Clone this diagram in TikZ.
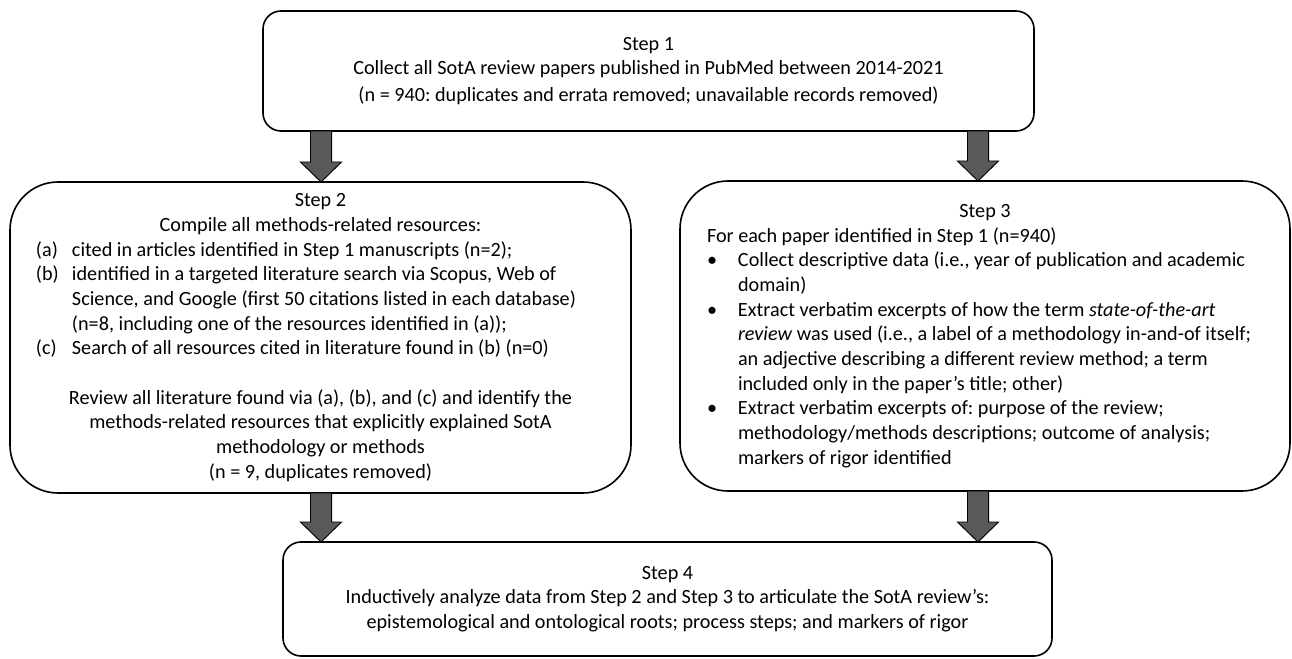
\documentclass[tikz,border=0pt]{standalone}
\usepackage{fontspec}
\setmainfont{Carlito}
\usetikzlibrary{calc}
\newdimen\pxu \pxu=0.75pt
\definecolor{arrowgray}{HTML}{595959}
\newcommand\ctrline[1]{\hbox to \linewidth{\hss#1\hss}}
\newcommand\lftline[1]{\hbox{#1}}
\newcommand\lblA[1]{\makebox[36\pxu][l]{#1}}
\newcommand\lblB[1]{\makebox[31\pxu][l]{#1}}
\frenchspacing
\begin{document}
\frenchspacing
\begin{tikzpicture}[x=0.75pt,y=-0.75pt,
  stepbox/.style={draw=black, line width=1.2pt, fill=white, inner sep=0pt, outer sep=0pt,
    font=\fontsize{15.15pt}{18.5pt}\selectfont\frenchspacing},
  smallr/.style={rounded corners=13.5pt},
  bigr/.style={rounded corners=36pt},
  bigarrow/.style={draw=black, line width=0.7pt, fill=arrowgray, line join=miter,
    to path={let \p1=(\tikztostart), \p2=(\tikztotarget) in
      (\x1-7.9pt,\y1) -- (\x1+7.9pt,\y1) -- (\x1+7.9pt,\y2+15pt) -- (\x1+15.4pt,\y2+15pt)
      -- (\x1,\y2) -- (\x1-15.4pt,\y2+15pt) -- (\x1-7.9pt,\y2+15pt) -- cycle}}]
\useasboundingbox (0,0) rectangle (1292,659);

\node[stepbox, smallr, minimum width=578.25pt, minimum height=90pt] (s1) at (648.5,71) {%
\begin{minipage}{740\pxu}
\ctrline{Step 1}
\ctrline{Collect all SotA review papers published in PubMed between 2014-2021}
\vspace{2\pxu}
\ctrline{(n = 940: duplicates and errata removed; unavailable records removed)}
\end{minipage}};

\node[stepbox, bigr, minimum width=465.75pt, minimum height=233.25pt] (s2) at (320.5,337.5) {%
\begin{minipage}{569\pxu}
\ctrline{Step 2}
\ctrline{Compile all methods-related resources:}
\lftline{\lblA{(a)}cited in articles identified in Step 1 manuscripts (n=2);}
\lftline{\lblA{(b)}identified in a targeted literature search via Scopus, Web of}
\lftline{\hspace*{36\pxu}Science, and Google (first 50 citations listed in each database)}
\lftline{\hspace*{36\pxu}(n=8, including one of the resources identified in (a));}
\lftline{\lblA{(c)}Search of all resources cited in literature found in (b) (n=0)}
\lftline{\strut}
\ctrline{Review all literature found via (a), (b), and (c) and identify the}
\ctrline{methods-related resources that explicitly explained SotA}
\ctrline{methodology or methods}
\ctrline{(n = 9, duplicates removed)}
\end{minipage}};

\node[stepbox, bigr, minimum width=457.5pt, minimum height=232.5pt] (s3) at (985,336) {%
\begin{minipage}{556\pxu}
\ctrline{Step 3}
\lftline{For each paper identified in Step 1 (n=940)}
\lftline{\lblB{•}Collect descriptive data (i.e., year of publication and academic}
\lftline{\hspace*{31\pxu}domain)}
\lftline{\lblB{•}Extract verbatim excerpts of how the term \textit{state-of-the-art}}
\lftline{\hspace*{31\pxu}\textit{review} was used (i.e., a label of a methodology in-and-of itself;}
\lftline{\hspace*{31\pxu}an adjective describing a different review method; a term}
\lftline{\hspace*{31\pxu}included only in the paper’s title; other)}
\lftline{\lblB{•}Extract verbatim excerpts of: purpose of the review;}
\lftline{\hspace*{31\pxu}methodology/methods descriptions; outcome of analysis;}
\lftline{\hspace*{31\pxu}markers of rigor identified}
\end{minipage}};

\node[stepbox, smallr, minimum width=576.75pt, minimum height=85.5pt] (s4) at (667.5,599) {%
\begin{minipage}{740\pxu}
\ctrline{Step 4}
\ctrline{Inductively analyze data from Step 2 and Step 3 to articulate the SotA review’s:}
\ctrline{epistemological and ontological roots; process steps; and markers of rigor}
\end{minipage}};

\coordinate (la) at (321,0);
\coordinate (ra) at (978,0);
\draw[bigarrow] (s1.south -| la) to (s2.north -| la);
\draw[bigarrow] (s1.south -| ra) to (s3.north -| ra);
\draw[bigarrow] (s2.south -| la) to (s4.north -| la);
\draw[bigarrow] (s3.south -| ra) to (s4.north -| ra);
\end{tikzpicture}
\end{document}
